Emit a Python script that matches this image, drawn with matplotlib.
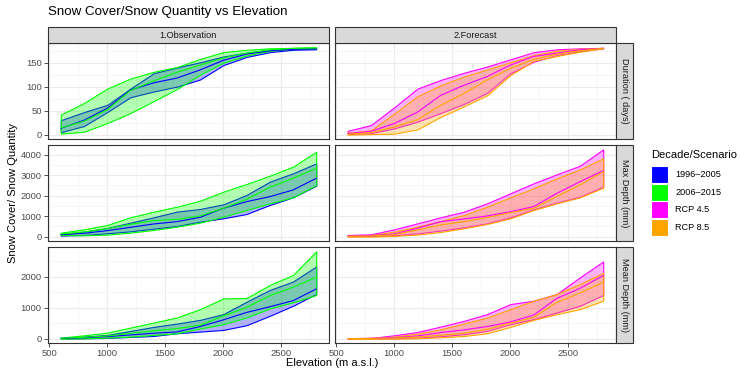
import matplotlib
matplotlib.use("Agg")
import matplotlib.pyplot as plt
from matplotlib.patches import Rectangle
from matplotlib.ticker import MultipleLocator

plt.rcParams['font.family'] = ['Liberation Sans', 'DejaVu Sans']

# ---------- data ----------
elevation = [600, 800, 1000, 1200, 1400, 1600, 1800, 2000, 2200, 2400, 2600, 2800]

series_names = ["1996\u20132005", "2006\u20132015", "RCP 4.5", "RCP 8.5"]
series_colors = ["#0000FF", "#00FF00", "#FF00FF", "#FFA500"]

# each series: [lower, middle, upper]
dur_9605 = [[5, 18, 47, 78, 90, 100, 115, 145, 162, 172, 177, 178],
            [13, 30, 55, 93, 108, 118, 135, 155, 168, 175, 178, 179],
            [30, 47, 62, 96, 128, 140, 151, 163, 171, 176, 179, 179]]
dur_0615 = [[2, 6, 24, 45, 70, 95, 125, 150, 165, 175, 179, 180],
            [14, 28, 52, 92, 112, 130, 145, 160, 170, 177, 180, 181],
            [42, 66, 96, 117, 131, 141, 158, 172, 177, 180, 181, 182]]
dur_rcp45 = [[1, 3, 13, 27, 45, 64, 87, 128, 152, 166, 174, 180],
             [2, 7, 23, 47, 82, 103, 121, 145, 163, 170, 177, 180],
             [8, 20, 57, 96, 114, 129, 142, 157, 172, 178, 180, 181]]
dur_rcp85 = [[0, 1, 2, 11, 37, 59, 82, 124, 154, 164, 173, 180],
             [1, 4, 16, 31, 61, 86, 114, 138, 157, 168, 175, 180],
             [4, 9, 44, 80, 103, 121, 136, 151, 166, 175, 179, 181]]

max_9605 = [[50, 81, 163, 260, 390, 520, 732, 894, 1106, 1545, 1919, 2488],
            [98, 163, 293, 455, 618, 732, 943, 1382, 1707, 1951, 2276, 2846],
            [114, 244, 423, 683, 943, 1220, 1350, 1577, 2033, 2683, 3090, 3577]]
max_0615 = [[81, 65, 98, 195, 325, 488, 683, 976, 1300, 1626, 1919, 2520],
            [130, 228, 390, 600, 780, 846, 1008, 1382, 1821, 2407, 2846, 3333],
            [195, 358, 570, 943, 1220, 1463, 1756, 2195, 2570, 2976, 3415, 4146]]
max_rcp45 = [[16, 33, 65, 163, 293, 455, 650, 943, 1333, 1659, 1951, 2439],
             [33, 49, 130, 406, 732, 862, 1008, 1220, 1463, 2114, 2683, 3220],
             [81, 114, 358, 650, 943, 1220, 1626, 2114, 2602, 3041, 3463, 4260]]
max_rcp85 = [[0, 0, 33, 98, 228, 406, 618, 894, 1300, 1626, 1919, 2390],
             [16, 33, 98, 325, 569, 732, 927, 1171, 1382, 1951, 2520, 3171],
             [49, 81, 244, 488, 764, 1057, 1463, 1919, 2358, 2846, 3285, 3821]]

mean_9605 = [[0, 11, 22, 54, 86, 173, 227, 281, 432, 735, 1059, 1438],
             [11, 32, 65, 119, 173, 216, 389, 605, 843, 1027, 1221, 1600],
             [22, 65, 119, 249, 378, 486, 605, 789, 1189, 1567, 1838, 2324]]
mean_0615 = [[0, 11, 32, 65, 119, 173, 324, 465, 681, 973, 1167, 1405],
             [11, 43, 86, 173, 249, 324, 432, 735, 1005, 1384, 1654, 1978],
             [32, 108, 195, 357, 519, 681, 951, 1297, 1308, 1730, 2054, 2811]]
mean_rcp45 = [[0, 0, 11, 32, 76, 141, 249, 465, 627, 843, 1059, 1405],
              [0, 11, 32, 86, 195, 281, 389, 540, 757, 1297, 1622, 2032],
              [0, 22, 108, 216, 389, 573, 789, 1113, 1221, 1438, 1978, 2486]]
mean_rcp85 = [[0, 0, 0, 11, 43, 86, 173, 378, 605, 789, 951, 1222],
              [0, 11, 22, 54, 108, 173, 303, 497, 681, 1167, 1470, 1816],
              [0, 11, 65, 162, 303, 486, 681, 951, 1221, 1438, 1762, 2119]]

col_labels = ["1.Observation", "2.Forecast"]
row_labels = ["Duration ( days)", "Max Depth (mm)", "Mean Depth (mm)"]
row_ticks = [[0, 50, 100, 150], [0, 1000, 2000, 3000, 4000], [0, 1000, 2000]]
x_ticks = [500, 1000, 1500, 2000, 2500]

rows = [
    [[(0, dur_9605), (1, dur_0615)], [(2, dur_rcp45), (3, dur_rcp85)]],
    [[(0, max_9605), (1, max_0615)], [(2, max_rcp45), (3, max_rcp85)]],
    [[(0, mean_9605), (1, mean_0615)], [(2, mean_rcp45), (3, mean_rcp85)]],
]

# ---------- layout helpers (pixels -> figure fractions) ----------
W, H = 740, 369
def fx(x):
    return x / W
def fy(y):
    return 1 - y / H

dark = "#333333"
grey_txt = "#4D4D4D"
strip_fill = "#D9D9D9"

fig = plt.figure(figsize=(7.4, 3.69), dpi=100)

panel_x = [48, 335]
panel_w = 281
panel_top = [43, 145, 247]
panel_h = 96

xmin, xmax = min(elevation), max(elevation)
xpad = 0.05 * (xmax - xmin)

for r, row in enumerate(rows):
    vals = [v for col in row for _, s in col for part in s for v in part]
    lo, hi = min(vals), max(vals)
    pad = 0.05 * (hi - lo)
    for c, col in enumerate(row):
        ax = fig.add_axes([fx(panel_x[c]), fy(panel_top[r] + panel_h),
                           panel_w / W, panel_h / H])
        for k, s in col:
            clr = series_colors[k]
            ax.fill_between(elevation, s[0], s[2], facecolor=(clr, 0.3),
                            edgecolor=clr, linewidth=0.8, zorder=2)
        for k, s in col:
            ax.plot(elevation, s[1], color=series_colors[k], lw=0.8, zorder=3)
        ax.set_xlim(xmin - xpad, xmax + xpad)
        ax.set_ylim(lo - pad, hi + pad)
        ax.set_xticks(x_ticks)
        ax.xaxis.set_minor_locator(MultipleLocator(250))
        yt = row_ticks[r]
        ax.set_yticks(yt)
        ax.yaxis.set_minor_locator(MultipleLocator((yt[1] - yt[0]) / 2))
        ax.grid(True, which="major", color="#EBEBEB", lw=0.8, zorder=0)
        ax.grid(True, which="minor", color="#F2F2F2", lw=0.45, zorder=0)
        ax.set_axisbelow(True)
        for sp in ax.spines.values():
            sp.set_color(dark)
            sp.set_linewidth(0.8)
        ax.tick_params(which="minor", length=0)
        ax.tick_params(which="major", length=3, width=0.6, color=dark,
                       labelsize=6.8, labelcolor=grey_txt, pad=1.5)
        if c == 1:
            ax.tick_params(axis="y", left=False, labelleft=False)
        if r < 2:
            ax.tick_params(axis="x", bottom=False, labelbottom=False)
        ax.set_facecolor("white")

    # right strip
    fig.patches.append(Rectangle((fx(616), fy(panel_top[r] + panel_h)), 17 / W,
                                 panel_h / H, transform=fig.transFigure,
                                 facecolor=strip_fill, edgecolor=dark, lw=0.8))
    fig.text(fx(624.5), fy(panel_top[r] + panel_h / 2), row_labels[r],
             rotation=-90, ha="center", va="center", fontsize=6.6, color="#1A1A1A")

# top strips
for c in range(2):
    fig.patches.append(Rectangle((fx(panel_x[c]), fy(43)), panel_w / W, 16 / H,
                                 transform=fig.transFigure, facecolor=strip_fill,
                                 edgecolor=dark, lw=0.8))
    fig.text(fx(panel_x[c] + panel_w / 2), fy(35), col_labels[c],
             ha="center", va="center", fontsize=6.6, color="#1A1A1A")

# titles
fig.text(fx(48), fy(12.5), "Snow Cover/Snow Quantity vs Elevation",
         ha="left", va="center", fontsize=9.6)
fig.text(fx(332), fy(363), "Elevation (m a.s.l.)", ha="center", va="center",
         fontsize=8)
fig.text(fx(13), fy(193), "Snow Cover/ Snow Quantity", rotation=90,
         ha="center", va="center", fontsize=8)

# legend
fig.text(fx(651), fy(155), "Decade/Scenario", ha="left", va="center", fontsize=8)
for i, (name, clr) in enumerate(zip(series_names, series_colors)):
    top = 166 + i * 17.6
    fig.patches.append(Rectangle((fx(651), fy(top + 17)), 17 / W, 17 / H,
                                 transform=fig.transFigure, facecolor=clr,
                                 edgecolor="white", lw=0.8))
    fig.text(fx(675), fy(top + 8.5), name, ha="left", va="center", fontsize=6.6)

fig.savefig("out.png", dpi=100)
